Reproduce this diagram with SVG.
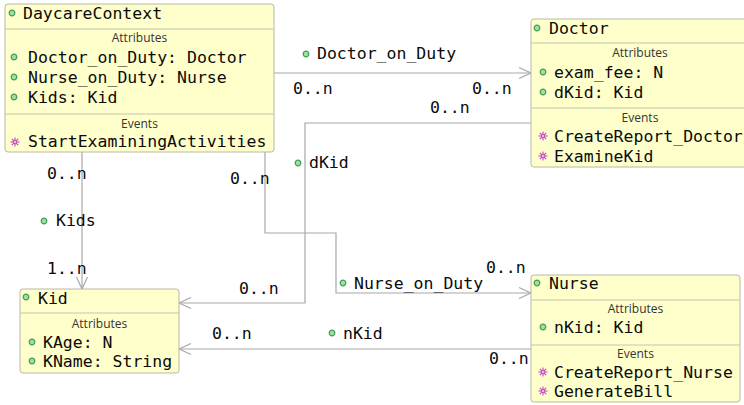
<svg xmlns="http://www.w3.org/2000/svg" width="744" height="405" viewBox="0 0 744 405">
<style>
.box{fill:#ffffcc;stroke:#b8b8a4;stroke-width:1}
.sep{stroke:#c4c4b0;stroke-width:1}
.t{font-family:"DejaVu Sans Mono","Liberation Mono",monospace;font-size:16.5px;fill:#0a0a0a}
.sec{font-family:"Open Sans","DejaVu Sans",sans-serif;font-size:12px;fill:#333;text-anchor:middle}
.conn{fill:none;stroke:#a8a8a8;stroke-width:1.2}
</style>
<defs>
<marker id="arr" markerUnits="userSpaceOnUse" markerWidth="16" markerHeight="14" refX="13" refY="7" orient="auto">
<path d="M1,1.5 L13,7 L1,12.5" fill="none" stroke="#a8a8a8" stroke-width="1.2"/>
</marker>
<symbol id="dot" viewBox="-4 -4 8 8" width="8" height="8" overflow="visible">
<circle r="2.8" fill="#9fe09f" stroke="#3e9e56" stroke-width="1.2"/>
</symbol>
<symbol id="ev" viewBox="-5 -5 10 10" width="10" height="10" overflow="visible">
<g stroke="#c040c0" stroke-width="1.1">
<line x1="-4.5" y1="0" x2="4.5" y2="0"/>
<line x1="0" y1="-4.5" x2="0" y2="4.5"/>
<line x1="-3.2" y1="-3.2" x2="3.2" y2="3.2"/>
<line x1="-3.2" y1="3.2" x2="3.2" y2="-3.2"/>
</g>
<circle r="1.6" fill="#f0c0f0" stroke="#c040c0" stroke-width="0.8"/>
</symbol>
</defs>

<g id="connectors">
<path class="conn" d="M274,73 H531" marker-end="url(#arr)"/>
<path class="conn" d="M531,123 H305 V303 H179" marker-end="url(#arr)"/>
<path class="conn" d="M82,152 V289" marker-end="url(#arr)"/>
<path class="conn" d="M265,152 V233 H336 V293 H531" marker-end="url(#arr)"/>
<path class="conn" d="M531,349 H179" marker-end="url(#arr)"/>
<use href="#dot" x="302" y="50"/><text class="t" x="317" y="59">Doctor_on_Duty</text>
<text class="t" x="293" y="94">0..n</text>
<text class="t" x="472" y="94">0..n</text>
<text class="t" x="430" y="113">0..n</text>
<use href="#dot" x="294" y="159"/><text class="t" x="309" y="168">dKid</text>
<text class="t" x="239" y="294">0..n</text>
<text class="t" x="47" y="179">0..n</text>
<use href="#dot" x="40" y="217"/><text class="t" x="56" y="226">Kids</text>
<text class="t" x="47" y="274">1..n</text>
<text class="t" x="230" y="184">0..n</text>
<use href="#dot" x="339" y="279"/><text class="t" x="354" y="289">Nurse_on_Duty</text>
<text class="t" x="486" y="273">0..n</text>
<text class="t" x="212" y="339">0..n</text>
<use href="#dot" x="328" y="329"/><text class="t" x="343" y="339">nKid</text>
<text class="t" x="489" y="364">0..n</text>
</g>

<g id="DaycareContext">
<rect class="box" x="5" y="4" width="269" height="148" rx="3"/>
<line class="sep" x1="5" y1="29" x2="274" y2="29"/>
<line class="sep" x1="5" y1="114" x2="274" y2="114"/>
<use href="#dot" x="8" y="9"/><text class="t" x="23" y="19">DaycareContext</text>
<text class="sec" x="139.5" y="42">Attributes</text>
<use href="#dot" x="10" y="53"/><text class="t" x="28" y="63">Doctor_on_Duty: Doctor</text>
<use href="#dot" x="10" y="73"/><text class="t" x="28" y="83">Nurse_on_Duty: Nurse</text>
<use href="#dot" x="10" y="93"/><text class="t" x="28" y="103">Kids: Kid</text>
<text class="sec" x="139.5" y="128">Events</text>
<use href="#ev" x="10" y="137"/><text class="t" x="28" y="147">StartExaminingActivities</text>
</g>

<g id="Doctor">
<rect class="box" x="531" y="19" width="218" height="148" rx="3"/>
<line class="sep" x1="531" y1="43" x2="749" y2="43"/>
<line class="sep" x1="531" y1="108" x2="749" y2="108"/>
<use href="#dot" x="533" y="24"/><text class="t" x="549" y="34">Doctor</text>
<text class="sec" x="640" y="57">Attributes</text>
<use href="#dot" x="539" y="68"/><text class="t" x="554" y="78">exam_fee: N</text>
<use href="#dot" x="539" y="88"/><text class="t" x="554" y="98">dKid: Kid</text>
<text class="sec" x="640" y="122">Events</text>
<use href="#ev" x="538" y="131"/><text class="t" x="554" y="142">CreateReport_Doctor</text>
<use href="#ev" x="538" y="151"/><text class="t" x="554" y="162">ExamineKid</text>
</g>

<g id="Nurse">
<rect class="box" x="531" y="275" width="209" height="127" rx="3"/>
<line class="sep" x1="531" y1="300" x2="740" y2="300"/>
<line class="sep" x1="531" y1="345" x2="740" y2="345"/>
<use href="#dot" x="533" y="279"/><text class="t" x="549" y="289">Nurse</text>
<text class="sec" x="635.5" y="313">Attributes</text>
<use href="#dot" x="539" y="323"/><text class="t" x="554" y="333">nKid: Kid</text>
<text class="sec" x="635.5" y="358">Events</text>
<use href="#ev" x="538" y="367"/><text class="t" x="554" y="378">CreateReport_Nurse</text>
<use href="#ev" x="538" y="386"/><text class="t" x="554" y="397">GenerateBill</text>
</g>

<g id="Kid">
<rect class="box" x="20" y="289" width="159" height="84" rx="3"/>
<line class="sep" x1="20" y1="313" x2="179" y2="313"/>
<use href="#dot" x="22" y="293"/><text class="t" x="38" y="304">Kid</text>
<text class="sec" x="99.5" y="328">Attributes</text>
<use href="#dot" x="28" y="338"/><text class="t" x="43" y="348">KAge: N</text>
<use href="#dot" x="28" y="357"/><text class="t" x="43" y="367">KName: String</text>
</g>
</svg>
